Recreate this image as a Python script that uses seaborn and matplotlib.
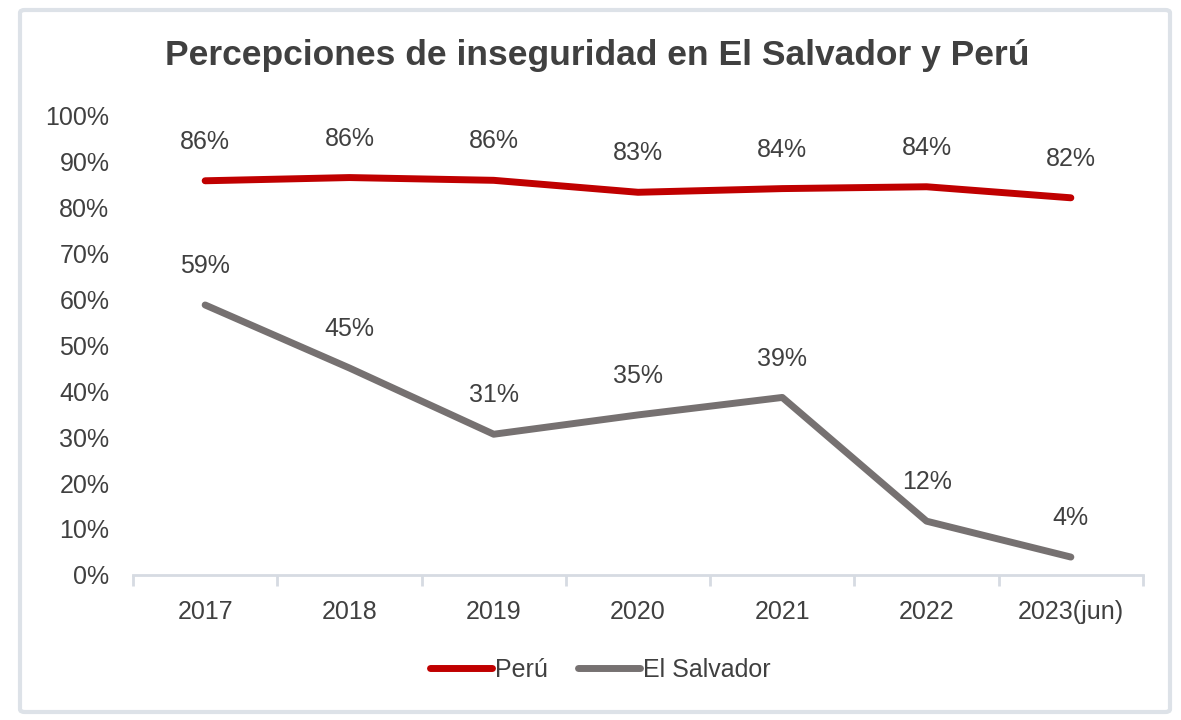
import numpy as np
import pandas as pd
import matplotlib.pyplot as plt
import seaborn as sns
from matplotlib.patches import FancyBboxPatch

years = ['2017', '2018', '2019', '2020', '2021', '2022', '2023(jun)']
peru = [85.7, 86.4, 85.8, 83.2, 84.0, 84.4, 82.0]
el_salvador = [58.7, 45.0, 30.6, 34.8, 38.6, 11.7, 3.9]
series_names = ['Perú', 'El Salvador']
colors = ['#C00000', '#767171']

df = pd.DataFrame({
    'year': years * 2,
    'pos': list(range(len(years))) * 2,
    'value': peru + el_salvador,
    'pais': [series_names[0]] * len(years) + [series_names[1]] * len(years),
})

sns.set_style('white')
plt.rcParams['font.family'] = ['Liberation Sans', 'DejaVu Sans']
txt = '#404040'
axis_col = '#d6dbe2'

fig = plt.figure(figsize=(11.81, 7.2), dpi=100)
ax = fig.add_axes([133 / 1181, 1 - 575 / 720, (1143 - 133) / 1181, (575 - 115) / 720])

sns.lineplot(data=df, x='pos', y='value', hue='pais', palette=colors, linewidth=5,
             ax=ax, legend=False, solid_capstyle='round')

for vals in [peru, el_salvador]:
    for i, v in enumerate(vals):
        ax.annotate(f'{v:.0f}%', (i, v), xytext=(0, 28), textcoords='offset points',
                    ha='center', va='center', fontsize=18, color=txt)

ax.set_xlim(-0.5, len(years) - 0.5)
ax.set_ylim(0, 100)
ax.set_yticks(np.arange(0, 101, 10))
ax.set_yticklabels([f'{t}%' for t in range(0, 101, 10)])
ax.set_xticks(np.arange(-0.5, len(years), 1))
ax.set_xticklabels([])
ax.set_xticks(range(len(years)), minor=True)
ax.set_xticklabels(years, minor=True)
ax.tick_params(axis='x', which='major', bottom=True, length=8, color=axis_col, width=2,
               direction='out')
ax.tick_params(axis='x', which='minor', bottom=True, length=0, pad=18, labelsize=18,
               labelcolor=txt)
ax.tick_params(axis='y', length=0, pad=17, labelsize=18, labelcolor=txt)
ax.set_xlabel('')
ax.set_ylabel('')
for s in ['top', 'right', 'left']:
    ax.spines[s].set_visible(False)
ax.spines['bottom'].set_color(axis_col)
ax.spines['bottom'].set_linewidth(2)

fig.text(0.506, 1 - 56 / 720, 'Percepciones de inseguridad en El Salvador y Perú',
         ha='center', va='center', fontsize=25.5, fontweight='bold', color=txt)

handles = [plt.Line2D([], [], color=c, linewidth=5, solid_capstyle='round') for c in colors]
fig.legend(handles, series_names, loc='center', bbox_to_anchor=(0.508, 1 - 670 / 720),
           ncol=2, frameon=False, fontsize=18, handlelength=2.5, handletextpad=0.1,
           columnspacing=1.2, labelcolor=txt)

frame = FancyBboxPatch((20 / 1181, 8 / 720), 1150 / 1181, 702 / 720,
                       boxstyle='round,pad=0,rounding_size=0.004', transform=fig.transFigure,
                       facecolor='none', edgecolor='#dde2e8', linewidth=3)
fig.patches.append(frame)

fig.savefig('out.png', dpi=100)
